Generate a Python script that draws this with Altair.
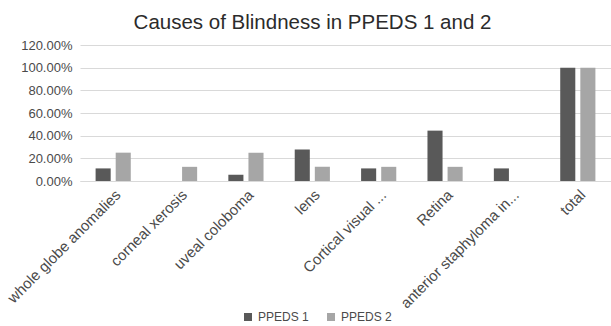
import altair as alt
import pandas as pd

categories = ["whole globe anomalies", "corneal xerosis", "uveal coloboma", "lens",
              "Cortical visual ...", "Retina", "anterior staphyloma in...", "total"]
ppeds1 = [0.1111, 0.0, 0.0556, 0.2778, 0.1111, 0.4444, 0.1111, 1.0]
ppeds2 = [0.25, 0.125, 0.25, 0.125, 0.125, 0.125, 0.0, 1.0]
series = ["PPEDS 1", "PPEDS 2"]
colors = ["#595959", "#a6a6a6"]

rows = []
for i, c in enumerate(categories):
    rows.append({"cat": c, "series": series[0], "value": ppeds1[i]})
    rows.append({"cat": c, "series": series[1], "value": ppeds2[i]})
df = pd.DataFrame(rows)

FONT = "Liberation Sans"
TXT = "#4a4a4a"

chart = alt.Chart(df).mark_bar().encode(
    x=alt.X("cat:N", sort=categories, title=None,
            scale=alt.Scale(paddingInner=0.47, paddingOuter=0.235),
            axis=alt.Axis(labelAngle=-45, labelFont=FONT, labelFontSize=15, labelColor=TXT,
                          ticks=False, domainColor="#d9d9d9", labelPadding=6, labelLimit=300)),
    xOffset=alt.XOffset("series:N", scale=alt.Scale(paddingInner=0.25, paddingOuter=0)),
    y=alt.Y("value:Q", title=None,
            scale=alt.Scale(domain=[0, 1.2]),
            axis=alt.Axis(format=".2%", values=[0, 0.2, 0.4, 0.6, 0.8, 1.0, 1.2],
                          labelFont=FONT, labelFontSize=13, labelColor=TXT,
                          ticks=False, domain=False, gridColor="#d9d9d9", labelPadding=8)),
    color=alt.Color("series:N", scale=alt.Scale(domain=series, range=colors),
                    legend=alt.Legend(title=None, orient="none", direction="horizontal",
                                      legendX=162, legendY=266, symbolType="square",
                                      symbolSize=64, labelFont=FONT, labelFontSize=12,
                                      labelColor=TXT, columnPadding=16, labelOffset=4,
                                      symbolStrokeWidth=0)),
).properties(
    width=531, height=136,
    title=alt.TitleParams("Causes of Blindness in PPEDS 1 and 2", font=FONT, fontSize=20.5,
                          fontWeight="normal", color="#2b2b2b", anchor="middle", dx=-33, offset=6),
    autosize=alt.AutoSizeParams(type="none"),
    padding={"left": 80, "top": 45, "right": 0, "bottom": 145},
).configure_view(stroke=None)

chart.save("out.html", embed_options={"renderer": "svg", "actions": False})
